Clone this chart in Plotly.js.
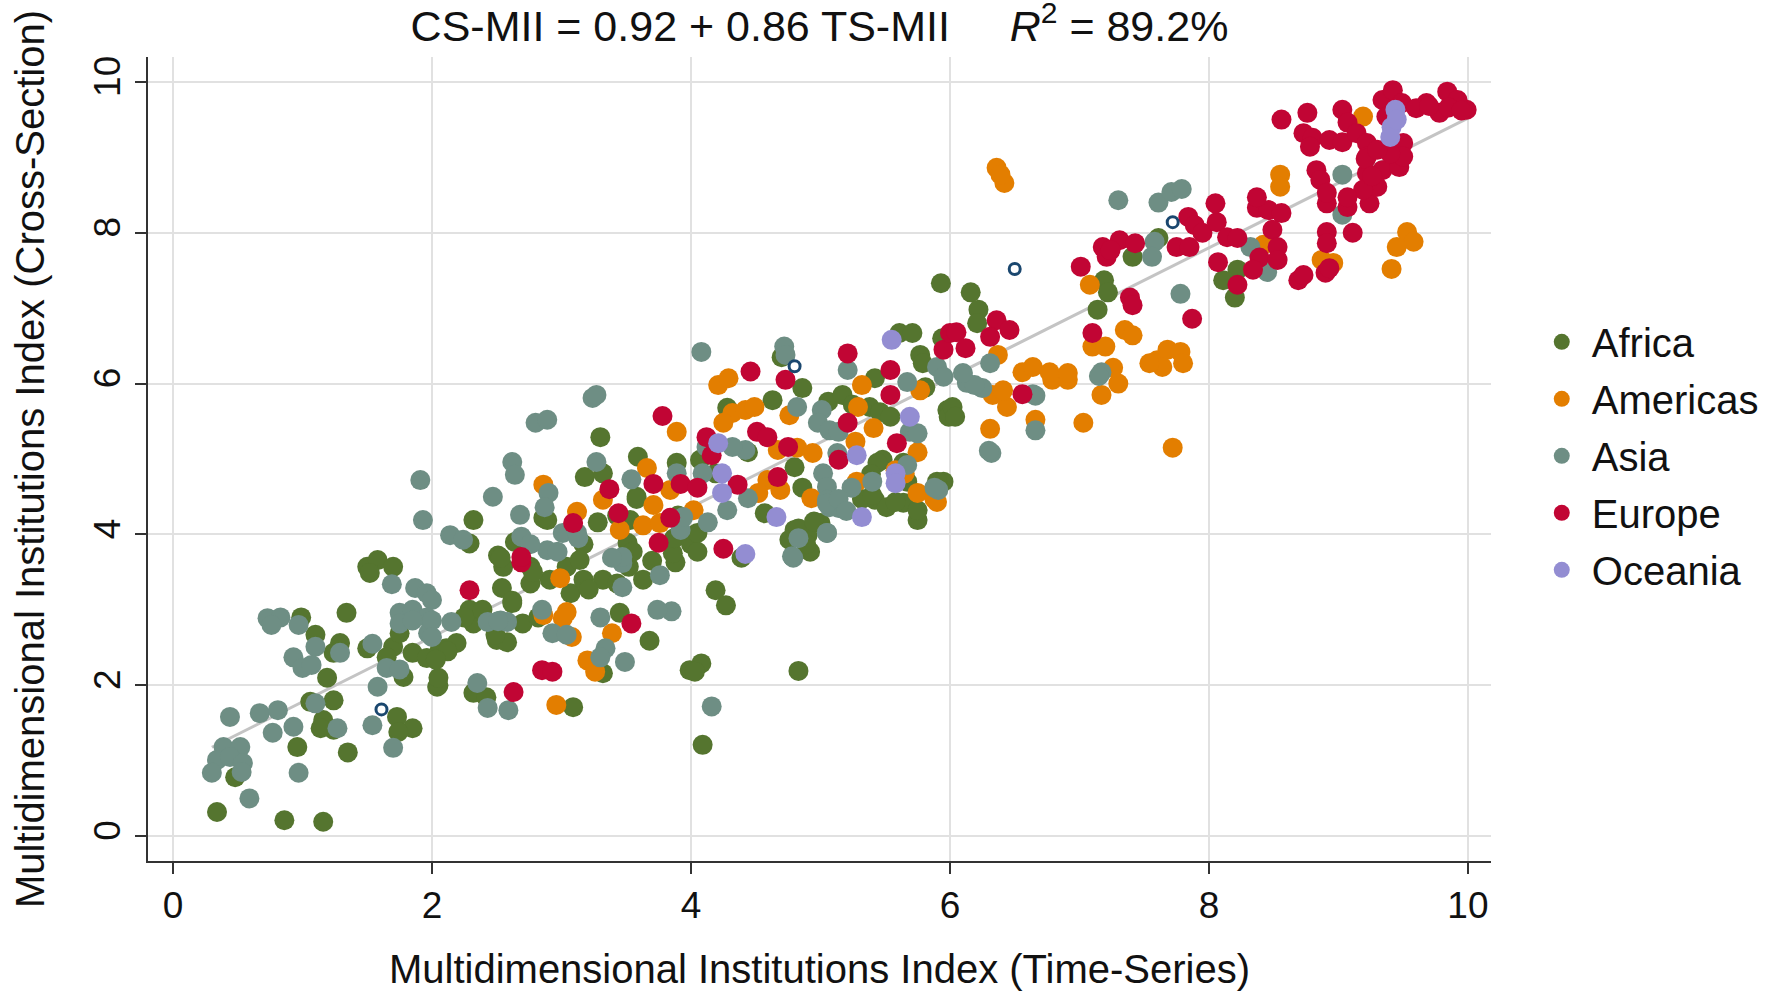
<!DOCTYPE html>
<html>
<head>
<meta charset="utf-8">
<script src="https://cdn.plot.ly/plotly-3.0.1.min.js"></script>
<style>html,body{margin:0;padding:0;background:#fff;}#chart{width:1777px;height:991px;}</style>
</head>
<body>
<div id="chart"></div>
<script>
// ---- Data ----
const regionNames = ["Africa", "Americas", "Asia", "Europe", "Oceania"];

const africaX = [1.50,1.58,1.70,1.52,1.34,0.99,1.10,1.29,1.24,1.50,1.70,1.75,1.65,1.78,1.85,1.96,2.04,1.19,1.06,1.24,1.16,1.24,1.14,0.96,1.35,1.73,1.85,1.74,0.48,0.34,0.86,1.16,2.06,
 2.05,2.05,2.32,2.42,3.09,3.32,3.68,3.99,3.88,2.50,2.58,2.11,2.19,2.32,2.29,2.39,2.54,2.62,2.70,2.76,2.91,3.07,3.17,3.32,3.43,3.63,2.55,2.76,3.45,
 2.51,2.78,3.04,3.21,3.52,3.70,3.17,2.62,2.82,2.49,2.25,2.12,2.03,
 3.30,3.59,3.18,3.32,3.58,2.32,2.29,2.89,3.28,3.89,2.53,3.14,3.53,3.51,3.55,3.86,3.97,2.64,2.86,3.43,3.58,3.87,4.00,3.90,
 4.05,4.05,4.80,4.76,4.92,4.90,5.00,4.19,4.27,4.08,4.03,4.83,4.09,5.75,4.39,
 5.61,5.71,5.94,5.77,5.79,5.42,4.86,4.70,4.63,4.28,5.06,5.17,5.25,5.38,5.46,5.54,5.81,5.48,5.44,5.64,5.98,4.44,4.19,4.07,4.80,4.86,5.42,5.51,5.64,5.95,4.57,
 4.83,4.89,5.32,5.40,5.58,5.75,5.67,5.39,5.90,4.95,6.00,5.99,
 6.16,6.22,6.21,5.93,6.02,6.04,7.61,7.41,7.19,7.22,7.14,8.11,8.20,8.22];
const africaY = [3.57,3.66,3.57,3.49,2.96,2.90,2.67,2.56,2.43,2.49,2.51,2.69,2.37,2.11,2.43,2.36,1.98,2.10,1.78,1.80,1.54,1.41,1.43,1.18,1.11,1.58,1.43,1.38,0.78,0.32,0.21,0.19,2.47,
 2.00,2.10,1.90,1.84,1.71,2.16,2.59,2.20,3.63,2.60,2.57,2.49,2.56,2.82,3.00,3.00,3.29,3.09,2.82,3.35,3.40,3.22,3.40,3.40,3.35,3.40,3.57,3.57,2.96,
 3.72,3.50,3.57,3.27,3.57,3.65,3.87,3.12,2.90,2.67,2.90,2.45,2.34,
 5.29,5.03,4.76,4.81,4.50,4.19,3.88,4.19,4.16,4.95,3.69,3.66,4.19,3.89,3.77,3.75,3.97,3.90,4.22,4.25,4.47,3.95,3.87,4.25,
 3.77,4.02,4.06,3.93,3.77,3.99,4.15,3.26,3.06,2.29,2.18,2.19,1.21,4.19,3.69,
 6.67,6.67,6.60,6.38,6.27,6.07,5.94,6.35,5.78,5.68,5.76,5.85,5.72,5.69,5.62,5.56,5.95,4.99,4.95,4.95,5.65,5.09,4.81,4.99,4.89,4.62,4.46,4.36,4.42,4.70,4.28,
 4.08,3.87,4.47,4.52,4.43,4.32,4.70,4.80,4.70,4.17,5.65,5.56,
 7.21,6.98,6.80,7.33,5.69,5.56,7.93,7.68,7.37,7.21,6.98,7.37,7.14,7.51];

const americasX = [2.99,3.04,3.01,2.86,3.08,3.39,3.20,3.26,2.96,3.89,2.86,3.66,3.32,3.71,3.63,3.76,3.45,3.84,3.12,
 4.21,4.29,5.32,5.77,4.32,4.42,4.49,4.25,4.76,5.29,5.41,4.67,4.82,4.94,5.27,5.75,5.65,5.58,4.59,4.69,5.28,4.93,5.75,5.90,4.52,4.02,5.88,
 6.33,6.44,6.41,6.79,6.91,7.17,7.30,6.31,6.66,7.03,7.72,6.36,6.42,6.39,7.08,7.35,7.41,7.10,7.20,7.60,7.68,7.78,7.80,7.64,7.54,7.26,6.37,6.56,6.64,6.77,6.91,
 8.42,8.87,8.96,9.53,9.58,9.45,9.41,9.19,8.55,8.55];
const americasY = [3.42,2.97,2.89,2.93,2.64,2.69,2.33,2.18,1.74,5.36,4.66,4.88,4.46,4.39,4.12,4.15,4.06,4.59,4.30,
 5.98,6.07,5.98,5.91,5.61,5.65,5.69,5.48,5.58,5.69,5.41,5.12,5.15,5.08,5.23,5.09,4.81,4.85,4.72,4.59,4.70,4.48,4.55,4.43,4.55,4.32,4.47,
 5.85,5.69,5.91,6.05,6.05,5.85,6.00,5.40,5.52,5.48,5.15,8.86,8.66,8.77,7.31,6.71,6.64,6.49,6.49,6.31,6.45,6.42,6.27,6.22,6.27,6.21,6.38,6.15,6.22,6.15,6.14,
 7.84,7.64,7.60,8.01,7.88,7.81,7.52,9.54,8.77,8.61];

const asiaX = [1.91,1.93,1.69,1.87,1.96,2.00,1.75,1.85,1.96,1.75,1.97,1.85,0.73,0.83,0.76,0.97,1.10,0.93,1.00,1.07,1.29,1.54,1.65,1.75,1.58,1.10,0.44,0.67,0.81,0.77,0.93,1.27,1.54,1.70,0.39,0.52,0.34,0.44,0.54,0.30,0.53,0.97,0.59,
 2.00,2.00,2.15,2.43,2.53,2.58,2.85,2.93,3.04,3.30,3.47,3.76,3.85,3.34,3.30,3.49,3.47,2.35,2.43,2.59,
 3.24,3.27,2.80,2.89,2.62,2.64,2.47,3.27,3.54,2.68,2.90,2.87,2.14,2.24,2.69,3.01,3.12,3.13,2.89,2.97,3.89,3.92,3.94,3.47,2.51,3.39,3.74,2.76,
 4.08,4.72,5.21,5.67,4.82,5.01,4.98,5.07,5.14,5.69,5.75,4.42,4.32,5.13,4.12,5.02,5.05,5.05,5.07,5.14,5.24,4.44,5.91,5.90,5.95,4.28,4.09,4.13,4.79,5.05,4.16,4.78,4.83,5.05,5.14,5.20,5.05,5.40,5.67,5.88,4.73,
 6.13,6.25,6.19,6.66,6.66,6.32,7.30,7.61,7.71,7.79,7.58,7.56,7.78,7.17,6.31,6.10,6.30,6.64,7.15,
 8.32,8.45,9.03,9.03];
const asiaY = [4.72,4.19,3.34,3.29,3.22,3.13,2.96,3.00,2.90,2.82,2.69,2.86,2.89,2.90,2.80,2.80,2.51,2.37,2.23,2.27,2.43,2.55,2.23,2.21,1.98,1.76,1.58,1.63,1.67,1.37,1.45,1.43,1.47,1.17,1.18,1.18,1.01,1.05,0.97,0.84,0.85,0.84,0.50,
 2.86,2.64,2.84,2.84,2.86,2.84,3.00,2.69,2.67,2.90,3.30,3.46,2.98,2.49,2.37,2.31,3.62,2.03,1.70,1.67,
 5.81,5.85,5.48,5.52,4.96,4.79,4.50,4.96,4.73,4.26,4.55,4.36,3.99,3.93,3.97,4.02,4.02,3.95,3.79,3.77,4.81,4.06,4.23,3.70,2.85,3.69,3.00,3.87,
 6.42,6.49,6.18,6.02,5.69,5.65,5.48,5.38,5.36,5.36,5.34,5.12,5.16,5.08,5.16,4.81,4.63,4.46,4.36,4.35,4.62,4.48,4.59,6.22,6.09,4.32,4.81,4.16,3.69,4.02,1.72,3.71,3.95,4.41,4.47,4.31,4.02,4.70,4.92,4.62,6.38,
 6.01,5.94,5.98,5.84,5.38,5.08,8.43,8.40,8.54,8.58,7.88,7.68,7.19,6.15,6.27,6.14,5.11,5.86,6.10,
 7.81,7.48,8.24,8.77];

const europeX = [2.29,2.69,3.54,2.85,2.93,2.63,3.78,3.37,3.44,3.09,3.71,3.92,3.84,3.75,2.69,
 5.21,4.46,4.73,5.54,5.54,5.95,6.00,5.21,4.51,4.59,4.75,5.59,5.14,4.16,4.12,4.67,4.36,4.05,4.25,
 6.56,7.84,7.89,7.95,7.75,7.85,7.18,7.21,7.31,7.43,7.24,7.01,7.39,7.41,7.87,7.10,6.36,6.46,6.31,6.05,6.12,
 8.06,8.14,8.22,8.07,8.37,8.46,8.56,8.49,8.53,8.39,8.34,8.53,8.22,8.69,8.73,8.91,8.91,8.90,8.93,9.11,8.91,9.07,9.24,8.05,
 8.56,8.76,8.73,8.80,8.78,8.93,9.03,9.03,9.07,9.14,9.22,9.22,9.34,9.42,9.49,9.37,9.50,9.45,9.34,9.68,9.84,9.99,9.78,9.92,8.83,8.86,9.22,9.30,9.19,8.91,9.07,9.47,9.50,8.37,
 9.21,9.26,9.40,9.30,9.60,9.70,9.85,9.95];
const europeY = [3.26,3.63,2.82,2.20,2.18,1.91,5.57,4.60,4.28,4.15,4.67,4.67,4.22,3.89,3.70,
 6.40,6.16,6.05,6.18,5.85,6.45,6.67,5.48,5.36,5.29,5.16,5.21,4.99,5.05,5.29,4.76,4.66,4.62,3.81,
 5.86,8.21,8.10,8.00,7.81,7.81,7.81,7.68,7.90,7.86,7.77,7.55,7.14,7.04,6.86,6.67,6.84,6.71,6.62,6.68,6.47,
 8.14,7.94,7.93,7.61,8.33,8.30,8.26,8.04,7.81,7.67,7.51,7.64,7.31,7.37,7.44,8.01,7.86,7.47,7.53,8.00,8.39,8.34,8.39,8.39,
 9.50,9.59,9.32,9.26,9.14,9.23,9.20,9.63,9.46,9.32,9.19,9.01,9.76,9.89,9.72,9.54,9.19,8.97,8.83,9.72,9.87,9.63,9.59,9.76,8.83,8.70,8.79,8.61,8.57,8.53,8.47,8.87,9.01,8.47,
 8.98,8.75,9.05,9.10,9.65,9.68,9.66,9.62];

const oceaniaX = [5.55,5.69,4.21,5.28,4.24,5.58,5.58,4.24,4.66,5.32,4.42,9.44,9.41,9.40,9.45];
const oceaniaY = [6.58,5.56,5.21,5.05,4.81,4.81,4.68,4.55,4.23,4.23,3.74,9.63,9.40,9.27,9.50];

// hollow markers
const hollowX = [1.61, 4.80, 6.50, 7.72];
const hollowY = [1.68, 6.23, 7.52, 8.14];

// fitted line CS-MII = 0.92 + 0.86 TS-MII
const fitIntercept = 0.92, fitSlope = 0.86;
const fitRangeX = [0.30, 10.0];

const tickVals = [0, 2, 4, 6, 8, 10];
const tickText = ["0", "2", "4", "6", "8", "10"];

// ---- Styles ----
const colors = ["#55752f", "#e37e00", "#6e8e84", "#c10534", "#938dd2"];
const FONT = "Liberation Sans, Arial, sans-serif";
const MS = 20;

const seriesX = [africaX, americasX, asiaX, europeX, oceaniaX];
const seriesY = [africaY, americasY, asiaY, europeY, oceaniaY];

const traces = [];
traces.push({
  x: fitRangeX, y: fitRangeX.map(v => fitIntercept + fitSlope * v),
  mode: "lines", line: {color: "#c4c4c4", width: 3}, showlegend: false, hoverinfo: "skip"
});
for (let i = 0; i < 5; i++) {
  traces.push({
    x: seriesX[i], y: seriesY[i], mode: "markers", name: regionNames[i],
    marker: {color: colors[i], size: MS, line: {width: 0}}, showlegend: false
  });
}
traces.push({
  x: hollowX, y: hollowY, mode: "markers", showlegend: false,
  marker: {color: "rgba(255,255,255,1)", size: 11, line: {color: "#1a476f", width: 3}}
});
// legend entries
for (let i = 0; i < 5; i++) {
  traces.push({
    x: [null], y: [null], mode: "markers", name: regionNames[i], legendgroup: "g" + i,
    marker: {color: colors[i], size: 16}, showlegend: true
  });
}

const axisCommon = {
  tickvals: tickVals, ticktext: tickText,
  showgrid: true, gridcolor: "#e1e1e1", gridwidth: 2, zeroline: false,
  showline: true, linecolor: "#333", linewidth: 2,
  ticks: "outside", ticklen: 11, tickwidth: 2, tickcolor: "#333",
  tickfont: {family: FONT, size: 37, color: "#111"}
};

const layout = {
  width: 1777, height: 991,
  paper_bgcolor: "#fff", plot_bgcolor: "#fff",
  margin: {l: 148, r: 286, t: 57, b: 130, pad: 0, autoexpand: false},
  font: {family: FONT, color: "#111"},
  title: {
    text: "CS-MII = 0.92 + 0.86 TS-MII&nbsp;&nbsp;&nbsp;&nbsp;&nbsp;<i>R</i><sup>2</sup> = 89.2%",
    font: {family: FONT, size: 43, color: "#111"},
    x: 0.5, xref: "paper", xanchor: "center", y: 0.974, yref: "container", yanchor: "middle"
  },
  xaxis: Object.assign({}, axisCommon, {
    range: [-0.193, 10.178],
    title: {text: "Multidimensional Institutions Index (Time-Series)", font: {family: FONT, size: 40, color: "#111"}, standoff: 36}
  }),
  yaxis: Object.assign({}, axisCommon, {
    range: [-0.33, 10.33], tickangle: -90,
    title: {text: "Multidimensional Institutions Index (Cross-Section)", font: {family: FONT, size: 40, color: "#111"}, standoff: 30}
  }),
  showlegend: true,
  legend: {
    xref: "container", x: 0.862, xanchor: "left", y: 0.504, yanchor: "middle",
    font: {family: FONT, size: 40, color: "#111"}, itemwidth: 50,
    bgcolor: "rgba(0,0,0,0)", borderwidth: 0, tracegroupgap: 2
  }
};

Plotly.newPlot("chart", traces, layout, {displayModeBar: false, staticPlot: true});
</script>
</body>
</html>
